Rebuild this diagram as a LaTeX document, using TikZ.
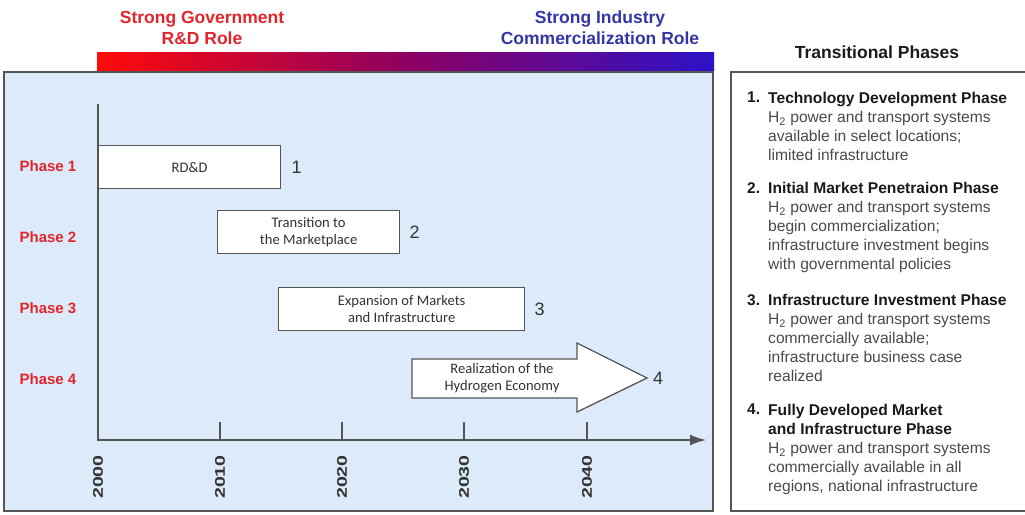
\documentclass[tikz,border=0pt]{standalone}
\usepackage{fontspec}
\setmainfont{Liberation Sans}
\newfontfamily\boxfont{Carlito}
\usetikzlibrary{positioning, arrows.meta}

\definecolor{govred}{HTML}{E0262C}
\definecolor{indblue}{HTML}{3535A5}
\definecolor{barred}{HTML}{FF0A0A}
\definecolor{barmid}{HTML}{8E0062}
\definecolor{barblue}{HTML}{2D12C8}
\definecolor{panelblue}{HTML}{DDEAF9}
\definecolor{framegray}{HTML}{555555}
\definecolor{boxtxt}{HTML}{333333}
\definecolor{bodygray}{HTML}{4A4A4A}
\definecolor{headblack}{HTML}{1A1A1A}

\tikzset{
	roletitle/.style = {align = center, font = \bfseries\fontsize{17.5}{21}\selectfont},
	phaselab/.style = {text = govred, font = \bfseries\fontsize{15}{18}\selectfont},
	phasebox/.style = {draw = framegray, fill = white, line width = 1.3pt, inner sep = 0pt,
		align = center, text = boxtxt, font = \boxfont\fontsize{14.6}{17.5}\selectfont},
	numlab/.style = {inner sep = 0pt, text = boxtxt, font = \fontsize{18}{20}\selectfont},
	yearlab/.style = {rotate = 90, anchor = east, inner sep = 0pt, text = boxtxt,
		font = \bfseries\fontsize{14}{16}\selectfont},
	itemnum/.style = {anchor = north west, inner sep = 0pt, text = headblack,
		font = \bfseries\fontsize{15.5}{19}\selectfont},
	itemtext/.style = {anchor = north west, inner sep = 0pt, align = left, text = bodygray,
		font = \fontsize{15.6}{19}\selectfont}
}

\begin{document}
\begin{tikzpicture}[x = 1pt, y = -1pt, > = {Latex[length = 16pt, width = 11pt]}]

	\useasboundingbox (0, 0) rectangle (1025, 514);

	% Role bar and titles

	\node [roletitle, text = govred] (gov) at (202, 28) {Strong Government\\R\&D Role};
	\node [roletitle, text = indblue] (ind) at (600, 28) {Strong Industry\\Commercialization Role};

	\shade [left color = barred, right color = barblue, middle color = barmid] (97, 52) rectangle (714, 72);

	% Panels

	\draw [fill = panelblue, draw = framegray, line width = 1.8pt] (4, 72) rectangle (713, 511);
	\draw [fill = white, draw = framegray, line width = 1.8pt] (731, 72) rectangle (1030, 511);

	% Axes

	\coordinate (ytop) at (98, 104);
	\coordinate (origin) at (98, 440);
	\coordinate (xend) at (706, 440);

	\draw [line width = 1.8pt, draw = framegray, ->] (ytop) -- (origin) -- (xend);

	\foreach \x in {220, 342, 464, 587}
		\draw [line width = 1.5pt, draw = framegray] (\x, 422) -- (\x, 440);

	\foreach \yr/\x in {2000/98, 2010/220, 2020/342, 2030/464, 2040/587}
		\node [yearlab] (y\yr) at (\x, 455) {\scalebox{1.4}[1]{\yr}};

	% Phase labels

	\node [phaselab] (ph1) at (48, 166) {Phase 1};
	\node [phaselab] (ph2) at (48, 237) {Phase 2};
	\node [phaselab] (ph3) at (48, 308) {Phase 3};
	\node [phaselab] (ph4) at (48, 379) {Phase 4};

	% Phase boxes

	\node [phasebox, anchor = north west, minimum width = 182pt, minimum height = 43pt] (p1) at (98, 145) {RD\&D};
	\node [phasebox, anchor = north west, minimum width = 182pt, minimum height = 43pt] (p2) at (217, 210) {Transition to\\the Marketplace};
	\node [phasebox, anchor = north west, minimum width = 246pt, minimum height = 43pt] (p3) at (278, 287) {Expansion of Markets\\and Infrastructure};

	\draw [draw = framegray, fill = white, line width = 1.3pt]
		(412, 359) -- (577, 359) -- (577, 343) -- (647, 378) -- (577, 412) -- (577, 398) -- (412, 398) -- cycle;
	\coordinate (tip4) at (647, 378);
	\node [phasebox, draw = none, fill = none] (p4) at (502, 378) {Realization of the\\Hydrogen Economy};

	\node [numlab, right = 10pt of p1] (n1) {1};
	\node [numlab, right = 9pt of p2] (n2) {2};
	\node [numlab, right = 9pt of p3] (n3) {3};
	\node [numlab, right = 6pt of tip4] (n4) {4};

	% Transitional phases

	\node [roletitle, text = headblack] (tp) at (877, 52) {Transitional Phases};

	\node [itemnum] (i1) at (747, 92) {1.};
	\node [itemtext] (t1) at (768, 92) {\textcolor{headblack}{\bfseries Technology Development Phase}\\
		H\textsubscript{2} power and transport systems\\available in select locations;\\limited infrastructure};

	\node [itemnum] (i2) at (747, 182) {2.};
	\node [itemtext] (t2) at (768, 182) {\textcolor{headblack}{\bfseries Initial Market Penetraion Phase}\\
		H\textsubscript{2} power and transport systems\\begin commercialization;\\infrastructure investment begins\\with governmental policies};

	\node [itemnum] (i3) at (747, 294) {3.};
	\node [itemtext] (t3) at (768, 294) {\textcolor{headblack}{\bfseries Infrastructure Investment Phase}\\
		H\textsubscript{2} power and transport systems\\commercially available;\\infrastructure business case\\realized};

	\node [itemnum] (i4) at (747, 404) {4.};
	\node [itemtext] (t4) at (768, 404) {\textcolor{headblack}{\bfseries Fully Developed Market}\\\textcolor{headblack}{\bfseries and Infrastructure Phase}\\
		H\textsubscript{2} power and transport systems\\commercially available in all\\regions, national infrastructure};

\end{tikzpicture}
\end{document}
